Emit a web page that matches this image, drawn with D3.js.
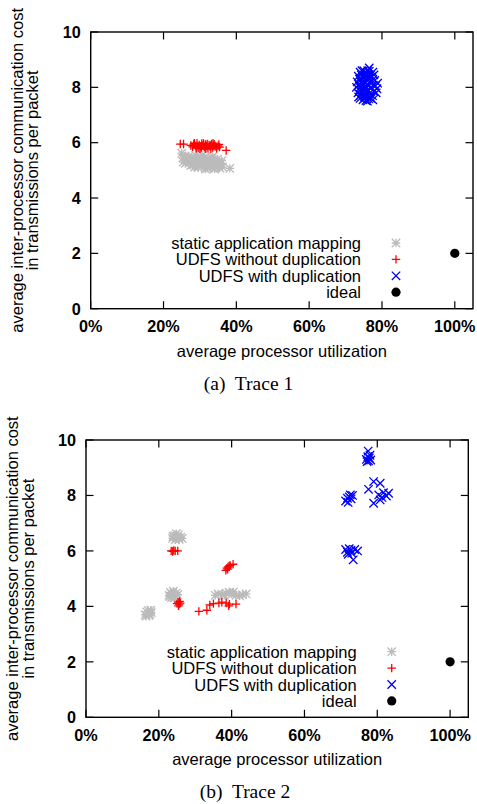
<!DOCTYPE html>
<html>
<head>
<meta charset="utf-8">
<script src="https://cdn.jsdelivr.net/npm/d3@7"></script>
<style>
  body { margin: 0; background: #fff; }
  svg text { font-family: "Liberation Sans", Arial, Helvetica, sans-serif; fill: #000; }
  .caption { font-family: "Liberation Serif", "Times New Roman", serif; }
</style>
</head>
<body>
<svg id="chart" width="477" height="804"></svg>
<script>
// values: [utilization %, cost]
const trace1Static = [[25.0,5.62],[25.3,5.45],[25.4,5.30],[25.8,5.50],[26.5,5.40],[27.0,5.52],[27.3,5.30],[27.8,5.45],[28.0,5.20],[28.4,5.38],[28.8,5.55],[29.0,5.28],[29.3,5.15],[29.6,5.42],[30.0,5.33],[30.2,5.50],[30.5,5.18],[30.8,5.40],[31.0,5.25],[31.3,5.48],[31.6,5.32],[31.9,5.15],[32.2,5.42],[32.5,5.26],[32.8,5.36],[33.0,5.12],[33.3,5.45],[33.6,5.22],[33.9,5.33],[34.2,5.10],[34.5,5.28],[34.8,5.40],[35.1,5.18],[35.5,5.08],[35.8,5.25],[36.2,5.12],[34.0,5.05],[32.0,5.08],[30.6,5.55],[29.5,5.10],[28.2,5.30],[27.5,5.18],[36.0,5.35],[38.2,5.07],
  [26.0,5.25],[28.6,5.12],[31.5,5.05],[33.5,5.50],[35.0,5.30],[29.8,5.22],[32.6,5.18]];
const trace1NoDup = [[24.6,5.95],[25.5,5.95],[27.5,5.90],[28.0,5.85],[28.3,5.95],[28.8,5.88],[29.2,5.98],[29.5,5.82],[29.8,5.92],[30.2,5.86],[30.5,5.97],[30.8,5.90],[31.2,5.83],[31.5,5.94],[31.8,5.88],[32.2,5.80],[32.5,5.92],[32.8,5.86],[33.2,5.95],[33.5,5.82],[33.8,5.90],[34.2,5.86],[34.6,5.80],[35.0,5.88],[35.4,5.84],[29.0,5.80],[30.0,5.78],[31.0,5.97],[32.0,5.95],[33.0,5.78],[34.0,5.94],[37.2,5.72],
  [28.5,5.98],[30.4,5.82],[31.6,5.78],[33.6,5.98],[35.2,5.94],[32.9,5.90]];
const trace1Dup = [[74.0,8.55],[75.0,8.60],[76.5,8.58],[77.5,8.55],[73.8,8.30],[74.8,8.35],[75.6,8.40],[76.4,8.32],[77.2,8.38],[78.0,8.25],[73.6,8.10],[74.4,8.15],[75.2,8.20],[76.0,8.12],[76.8,8.18],[77.6,8.08],[78.6,7.95],[73.8,7.90],[74.6,7.95],[75.4,7.98],[76.2,7.90],[77.0,7.96],[77.8,7.85],[74.2,7.72],[75.0,7.75],[75.8,7.70],[76.6,7.78],[77.4,7.70],[74.8,7.55],[75.6,7.52],[76.4,7.58],[75.5,8.05],[76.3,8.45],[74.3,8.45],[77.0,7.60],
  [73.0,8.00],[73.2,8.20],[73.4,7.80],[73.5,8.40],[74.0,8.00],[74.1,8.25],[74.5,7.85],[74.5,8.60],[74.9,8.10],[75.0,7.90],[75.3,8.50],[75.4,7.62],[75.8,8.25],[75.9,7.85],[76.1,8.60],[76.2,8.05],[76.7,7.65],[76.8,8.45],[77.1,8.00],[77.3,8.25],[77.8,8.45],[78.2,8.05],[78.4,7.80],[78.8,8.15],[76.0,7.50],[75.2,7.65],[74.0,7.60],[77.5,7.55],[73.6,7.65],[76.5,8.70]];

const trace2Static = [[23.8,6.45],[24.3,6.55],[24.8,6.62],[25.2,6.48],[25.6,6.42],[26.0,6.50],[26.4,6.45],[24.5,6.40],[25.0,6.52],[25.4,6.58],[23.9,6.52],
  [22.8,4.40],[23.2,4.50],[23.6,4.45],[24.0,4.55],[24.4,4.38],[24.8,4.48],[25.2,4.42],[23.5,4.32],[24.2,4.30],[23.0,4.35],
  [16.3,3.70],[16.7,3.80],[17.1,3.85],[17.5,3.72],[17.9,3.78],[16.5,3.65],[17.3,3.68],[17.8,3.86],
  [35.5,4.40],[36.3,4.45],[37.5,4.42],[38.5,4.48],[39.3,4.50],[40.0,4.45],[41.2,4.40],[42.2,4.38],[43.0,4.42],[44.0,4.45],[38.0,4.40],[40.5,4.52]];
const trace2NoDup = [[23.4,6.0],[23.8,5.98],[24.1,6.02],[24.5,6.0],[25.2,6.0],
  [25.0,4.10],[25.3,4.15],[25.6,4.08],[25.9,4.12],[25.4,4.02],[25.7,4.18],
  [38.4,5.30],[38.7,5.38],[39.0,5.42],[39.3,5.46],[39.6,5.48],[40.4,5.52],[38.9,5.34],
  [31.0,3.82],[33.2,3.86],[34.0,4.05],[35.0,4.10],[36.5,4.12],[37.3,4.15],[38.5,4.12],[39.2,4.02],[39.4,4.08],[41.2,4.08]];
const trace2Dup = [[77.0,9.30],[77.4,9.40],[77.8,9.35],[78.2,9.28],[77.5,9.60],[77.2,9.22],[78.0,9.45],[77.6,9.25],
  [79.0,8.50],[80.8,8.44],[77.6,8.22],[83.1,8.08],[80.4,8.02],[81.7,8.10],[79.0,7.72],[80.8,7.84],[81.3,7.93],[82.5,7.98],
  [71.3,7.80],[71.8,7.90],[72.3,7.95],[72.8,7.88],[73.2,8.00],[72.0,7.75],[72.6,8.02],
  [71.3,6.05],[71.8,5.95],[72.3,6.08],[72.8,6.02],[73.4,5.68],[73.8,6.05],[74.6,6.0],[72.0,5.88],[73.0,5.92]];
const idealPoint = [[100, 2]];

const xTicks = [0, 20, 40, 60, 80, 100];
const yTicks = [0, 2, 4, 6, 8, 10];
const legendLabels = ["static application mapping", "UDFS without duplication", "UDFS with duplication", "ideal"];
const yLabelLines = ["average inter-processor communication cost", "in transmissions per packet"];
const xLabel = "average processor utilization";

const svg = d3.select("#chart");

const colors = { static: "#bbbbbb", nodup: "#ff0000", dup: "#0000ff", ideal: "#000000" };

// gnuplot style point markers
function marker(sel, kind, s) {
  if (kind === "ideal") {
    sel.append("circle").attr("r", 4.6).attr("fill", colors.ideal);
    return;
  }
  let p = "";
  if (kind === "static" || kind === "nodup") p += `M${-s},0H${s}M0,${-s}V${s}`;
  if (kind === "static" || kind === "dup") p += `M${-s},${-s}L${s},${s}M${-s},${s}L${s},${-s}`;
  sel.append("path").attr("d", p).attr("fill", "none")
    .attr("stroke", colors[kind]).attr("stroke-width", 1.3);
}

function drawPanel(cfg) {
  const x = d3.scaleLinear().domain([0, 105]).range([cfg.left, cfg.right]);
  const y = d3.scaleLinear().domain([0, 10]).range([cfg.bottom, cfg.top]);
  const g = svg.append("g");

  // ticks (inside, mirrored)
  const tl = 7.5;
  xTicks.forEach(t => {
    g.append("line").attr("x1", x(t)).attr("x2", x(t)).attr("y1", cfg.bottom).attr("y2", cfg.bottom - tl).attr("stroke", "#000").attr("stroke-width", 1.2);
    g.append("line").attr("x1", x(t)).attr("x2", x(t)).attr("y1", cfg.top).attr("y2", cfg.top + tl).attr("stroke", "#000").attr("stroke-width", 1.2);
    g.append("text").attr("x", x(t)).attr("y", cfg.bottom + 23.5).attr("text-anchor", "middle")
      .attr("font-size", 16.2).attr("font-weight", "bold").text(t + "%");
  });
  yTicks.forEach(t => {
    g.append("line").attr("x1", cfg.left).attr("x2", cfg.left + tl).attr("y1", y(t)).attr("y2", y(t)).attr("stroke", "#000").attr("stroke-width", 1.2);
    g.append("line").attr("x1", cfg.right).attr("x2", cfg.right - tl).attr("y1", y(t)).attr("y2", y(t)).attr("stroke", "#000").attr("stroke-width", 1.2);
    g.append("text").attr("x", cfg.left - 10).attr("y", y(t) + 5.8).attr("text-anchor", "end")
      .attr("font-size", 16.2).attr("font-weight", "bold").text(t);
  });

  // series
  const series = [
    { kind: "static", data: cfg.static },
    { kind: "nodup", data: cfg.nodup },
    { kind: "dup", data: cfg.dup },
    { kind: "ideal", data: idealPoint }
  ];
  series.forEach(s => {
    g.append("g").selectAll("g").data(s.data).enter().append("g")
      .attr("transform", d => `translate(${x(d[0])},${y(d[1])})`)
      .each(function() { marker(d3.select(this), s.kind, 4.2); });
  });

  // legend
  series.forEach((s, i) => {
    const ly = cfg.legendY + i * 16.4;
    g.append("text").attr("x", cfg.legendX).attr("y", ly + 6).attr("text-anchor", "end")
      .attr("font-size", 16.5).text(legendLabels[i]);
    marker(g.append("g").attr("transform", `translate(${cfg.legendX + 35},${ly})`), s.kind, 4.2);
  });

  // frame
  g.append("rect").attr("x", cfg.left).attr("y", cfg.top)
    .attr("width", cfg.right - cfg.left).attr("height", cfg.bottom - cfg.top)
    .attr("fill", "none").attr("stroke", "#000").attr("stroke-width", 1.4);

  // axis titles
  g.append("text").attr("x", (cfg.left + cfg.right) / 2).attr("y", cfg.bottom + 48)
    .attr("text-anchor", "middle").attr("font-size", 16.5).text(xLabel);
  const cy = (cfg.top + cfg.bottom) / 2;
  yLabelLines.forEach((t, i) => {
    g.append("text").attr("transform", `translate(${cfg.ylabX + i * 15.5},${cy}) rotate(-90)`)
      .attr("text-anchor", "middle").attr("font-size", 16.5).text(t);
  });

  g.append("text").attr("class", "caption").attr("x", cfg.capX).attr("y", cfg.capY)
    .attr("text-anchor", "middle").attr("font-size", 19.5).attr("xml:space", "preserve").text(cfg.caption);
}

drawPanel({ left: 90.7, right: 473, top: 32, bottom: 308.7, static: trace1Static, nodup: trace1NoDup, dup: trace1Dup,
  legendX: 361, legendY: 243, ylabX: 22.5, capX: 248.5, capY: 390, caption: "(a)  Trace 1" });
drawPanel({ left: 86, right: 468.3, top: 440, bottom: 717.3, static: trace2Static, nodup: trace2NoDup, dup: trace2Dup,
  legendX: 356.7, legendY: 651.7, ylabX: 18, capX: 245, capY: 798, caption: "(b)  Trace 2" });
</script>
</body>
</html>
